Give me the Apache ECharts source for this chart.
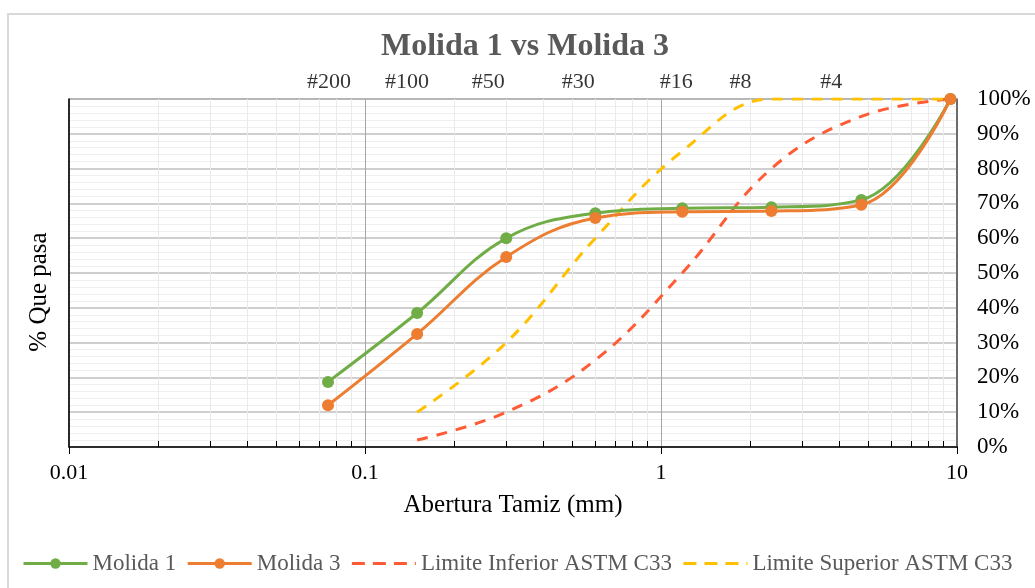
<!DOCTYPE html>
<html>
<head>
<meta charset="utf-8">
<script src="https://cdn.jsdelivr.net/npm/echarts@6/dist/echarts.min.js"></script>
<style>
html,body{margin:0;padding:0;background:#fff;}
#frame{position:absolute;left:7px;top:13px;width:1040px;height:600px;border:2px solid #d9d9d9;box-sizing:border-box;}
#chart{position:absolute;left:0;top:0;width:1035px;height:588px;}
</style>
</head>
<body>
<div id="frame"></div>
<div id="chart"></div>
<script>
// ---- data ----
const sieveSizes = [0.075, 0.15, 0.3, 0.6, 1.18, 2.36, 4.75, 9.5];
const sieveNames = ['#200', '#100', '#50', '#30', '#16', '#8', '#4'];
const molida1 = [18.7, 38.5, 60.0, 67.2, 68.6, 68.9, 71.0, 100];
const molida3 = [12.0, 32.5, 54.6, 65.8, 67.6, 67.8, 69.6, 100];
const limSizes = [0.15, 0.3, 0.6, 1.18, 2.36, 4.75, 9.5];
const limInferior = [2, 10, 25, 50, 80, 95, 100];
const limSuperior = [10, 30, 60, 85, 100, 100, 100];
const xTickLabels = ['0.01', '0.1', '1', '10'];
const yTicks = [0, 10, 20, 30, 40, 50, 60, 70, 80, 90, 100];
// label nudges (style only, px)
const nameNudge = [1, -10, -18, -17, -6, -31, -30];

const FONT = '"Liberation Serif", "Times New Roman", serif';
const chart = echarts.init(document.getElementById('chart'), null, {renderer: 'canvas'});

// minor log positions (2..9 in each decade)
const minorVals = [];
[0.01, 0.1, 1].forEach(d => { for (let k = 2; k <= 9; k++) minorVals.push(+(d * k).toPrecision(3)); });

const pairs = (xs, ys) => xs.map((x, i) => [x, ys[i]]);

chart.setOption({
  animation: false,
  title: {
    text: 'Molida 1 vs Molida 3',
    left: 376, top: 26,
    textStyle: {fontFamily: FONT, fontSize: 32, fontWeight: 'bold', color: '#595959'}
  },
  graphic: [{
    type: 'text', x: 39, y: 292, rotation: Math.PI / 2, silent: true,
    style: {text: '% Que pasa', font: '25px ' + FONT, fill: '#000', align: 'center', verticalAlign: 'middle'}
  }],
  grid: {left: 69, right: 78, top: 99, bottom: 141, show: true, borderColor: '#404040', borderWidth: 1, containLabel: false},
  legend: {
    left: 22, top: 552, padding: 0, width: 1030,
    itemWidth: 64, itemHeight: 13, itemGap: 10,
    textStyle: {fontFamily: FONT, fontSize: 23, color: '#595959'},
    data: [
      {name: 'Molida 1', lineStyle: {width: 3}},
      {name: 'Molida 3', lineStyle: {width: 3}},
      {name: 'Limite Inferior ASTM C33', itemStyle: {opacity: 0}, lineStyle: {width: 3, type: [13, 8]}},
      {name: 'Limite Superior ASTM C33', itemStyle: {opacity: 0}, lineStyle: {width: 3, type: [13, 8]}}
    ]
  },
  xAxis: {
    type: 'log', logBase: 10, min: 0.01, max: 10,
    name: 'Abertura Tamiz (mm)', nameLocation: 'middle', nameGap: 46,
    nameTextStyle: {fontFamily: FONT, fontSize: 25, color: '#000'},
    axisLine: {show: true, lineStyle: {color: '#000', width: 1.5}},
    axisTick: {show: true, inside: false, length: 7, lineStyle: {color: '#000'}},
    axisLabel: {
      fontFamily: FONT, fontSize: 22, color: '#000', margin: 15,
      formatter: v => { const i = Math.round(Math.log10(v)) + 2; return xTickLabels[i] !== undefined ? xTickLabels[i] : ''; }
    },
    splitLine: {show: true, lineStyle: {color: '#a6a6a6', width: 1}}
  },
  yAxis: [{
    type: 'value', position: 'right', min: 0, max: 100, interval: 10,
    axisLine: {show: true, lineStyle: {color: '#595959', width: 1.5}},
    axisTick: {show: false},
    axisLabel: {fontFamily: FONT, fontSize: 23, color: '#000', margin: 20,
      formatter: v => yTicks.indexOf(v) >= 0 ? v + '%' : ''},
    splitLine: {show: true, lineStyle: {color: '#bfbfbf', width: 1.5}},
    minorTick: {show: false, splitNumber: 5},
    minorSplitLine: {show: true, lineStyle: {color: '#efefef', width: 1}}
  }, {
    type: 'value', position: 'left', min: 0, max: 100,
    axisLine: {show: true, lineStyle: {color: '#000', width: 1.5}},
    axisTick: {show: false}, axisLabel: {show: false}, splitLine: {show: false}
  }],
  series: [
    {
      type: 'custom', silent: true, z: 1, clip: false,
      data: minorVals.map(v => [v, 0]),
      encode: {x: 0, y: 1},
      renderItem: (params, api) => {
        const v = api.value(0);
        const p0 = api.coord([v, 0]);
        const p1 = api.coord([v, 100]);
        const x = Math.round(p0[0]) + 0.5;
        return {type: 'group', children: [
          {type: 'line', shape: {x1: x, y1: p0[1], x2: x, y2: p1[1]},
            style: {stroke: '#eaeaea', lineWidth: 1}},
          {type: 'line', shape: {x1: x, y1: p0[1], x2: x, y2: p0[1] - 6},
            style: {stroke: '#000', lineWidth: 1}, z2: 10}
        ]};
      }
    },
    {
      name: 'Limite Inferior ASTM C33', type: 'line', z: 3, smooth: 0.4,
      data: pairs(limSizes, limInferior), showSymbol: false, symbol: 'none',
      lineStyle: {color: '#FF5B35', width: 3, type: [11, 9]}, itemStyle: {color: '#FF5B35'}
    },
    {
      name: 'Limite Superior ASTM C33', type: 'line', z: 3, smooth: 0.4,
      data: pairs(limSizes, limSuperior), showSymbol: false, symbol: 'none',
      lineStyle: {color: '#FFC000', width: 3, type: [11, 9]}, itemStyle: {color: '#FFC000'}
    },
    {
      name: 'Molida 1', type: 'line', z: 4, smooth: 0.4,
      data: pairs(sieveSizes, molida1), symbol: 'circle', symbolSize: 12,
      lineStyle: {color: '#70AD47', width: 3}, itemStyle: {color: '#70AD47'}
    },
    {
      name: 'Molida 3', type: 'line', z: 5, smooth: 0.4,
      data: pairs(sieveSizes, molida3), symbol: 'circle', symbolSize: 12,
      lineStyle: {color: '#ED7D31', width: 3}, itemStyle: {color: '#ED7D31'}
    },
    {
      type: 'scatter', silent: true, z: 6, clip: false, symbolSize: 0,
      data: sieveNames.map((n, i) => ({value: [sieveSizes[i], 100],
        label: {offset: [nameNudge[i], -17]}})),
      label: {show: true, position: 'inside', fontFamily: FONT, fontSize: 22, color: '#000',
        formatter: p => sieveNames[p.dataIndex]}
    }
  ]
});
</script>
</body>
</html>
